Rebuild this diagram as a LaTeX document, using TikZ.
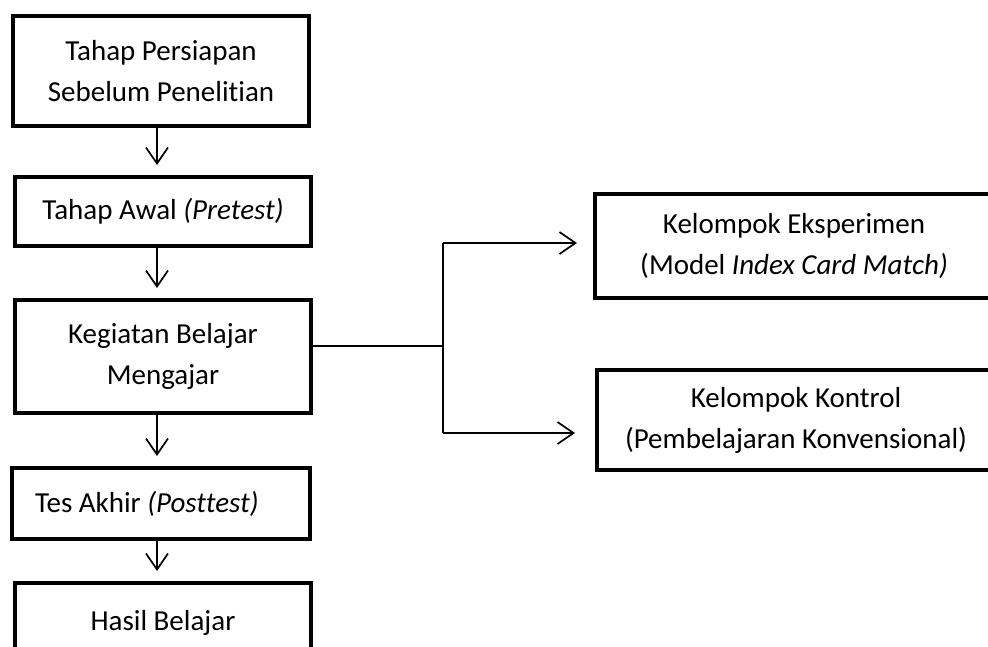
\documentclass[tikz,border=0pt]{standalone}
\usepackage{fontspec}
\setmainfont{Carlito}[Ligatures=NoCommon]
\usetikzlibrary{arrows.meta}
\tikzset{inner sep=0pt, outer sep=0pt}
\tikzset{box/.style={draw, line width=4pt, rectangle, align=center,
    font=\fontsize{29}{41}\selectfont},
  link/.style={line width=1.7pt},
  arr/.style={link, -{Straight Barb[length=16pt,width=22pt,line width=1.7pt]}, shorten >=12pt}}

\begin{document}
\begin{tikzpicture}[x=1pt, y=-1pt]
\useasboundingbox (0,0) rectangle (988,646);
% left column
\node[box, minimum width=296pt, minimum height=110pt] (persiapan) at (161,71)
  {Tahap Persiapan\\Sebelum Penelitian};
\node[box, minimum width=296pt, minimum height=69pt] (awal) at (163,211.5)
  {Tahap Awal \textit{(Pretest)}};
\node[box, minimum width=296pt, minimum height=113pt] (kbm) at (163,356.5)
  {Kegiatan Belajar\\Mengajar};
\node[box, text width=252pt, inner xsep=23pt, align=flush left, minimum height=71pt] (akhir) at (161,503.5)
  {Tes Akhir \textit{(Posttest)}};
\node[box, minimum width=296pt, minimum height=80pt] (hasil) at (163,623)
  {Hasil Belajar};
% right column
\node[box, minimum width=398pt, minimum height=104pt] (eksperimen) at (794,246)
  {Kelompok Eksperimen\\(Model \textit{Index Card Match)}};
\node[box, minimum width=398pt, minimum height=100pt] (kontrol) at (796,420)
  {Kelompok Kontrol\\(Pembelajaran Konvensional)};
% connectors
\coordinate (ax) at (157,0);
\coordinate (fork) at (443,346);
\coordinate (up) at (443,243);
\coordinate (dn) at (443,433);
\draw[arr] (persiapan.south -| ax) -- (awal.north -| ax);
\draw[arr] (awal.south -| ax) -- (kbm.north -| ax);
\draw[arr] (kbm.south -| ax) -- (akhir.north -| ax);
\draw[arr] (akhir.south -| ax) -- (hasil.north -| ax);
\draw[link] (fork -| kbm.east) -- (fork);
\draw[link] (up) -- (dn);
\draw[arr, shorten >=18pt] (up) -- (up -| eksperimen.west);
\draw[arr, shorten >=22pt] (dn) -- (dn -| kontrol.west);
\end{tikzpicture}
\end{document}
